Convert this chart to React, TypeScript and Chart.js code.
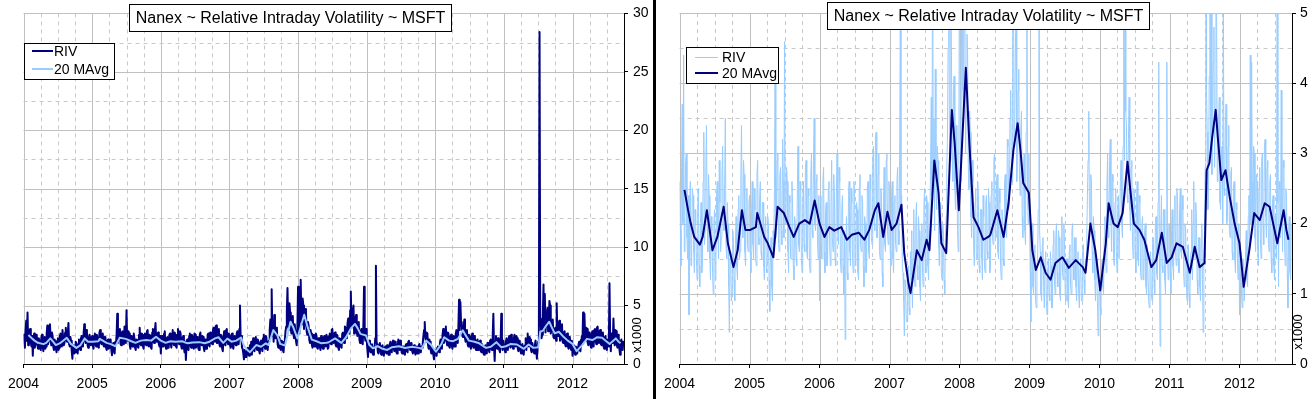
import React, { useEffect, useRef } from "react";
import { Chart, registerables } from "chart.js";

Chart.register(...registerables);

const TITLE = "Nanex ~ Relative Intraday Volatility ~ MSFT";
const RIV_NAME = "RIV";
const MAVG_NAME = "20 MAvg";
const UNIT_LABEL = "x1000";
const X_MIN = 2004;
const X_MAX = 2012.75;
const SAMPLES_PER_YEAR = 104;
const NAVY = "#000080";
const LIGHT = "#99ccff";
const FONT = '"Liberation Sans", Arial, sans-serif';

// Relative intraday volatility (x1000), two readings per week
const riv2004 = [
  2.6, 1.9, 1.4, 2.8, 3.7, 2.0, 4.4, 1.6, 2.1, 2.9, 3.0, 1.8, 1.5, 2.4, 0.7, 2.2, 2.6, 1.4, 1.7, 2.5, 2.4, 1.6, 1.3, 2.2, 2.0, 1.5,
  1.2, 2.3, 2.5, 1.4, 1.1, 2.0, 2.3, 1.3, 1.5, 2.6, 3.3, 1.7, 1.9, 2.8, 3.4, 2.1, 1.6, 2.7, 2.4, 1.5, 1.2, 2.1, 1.9, 1.3, 1.0, 2.0,
  2.2, 1.2, 1.4, 2.4, 2.6, 1.8, 1.5, 2.9, 2.3, 1.6, 1.8, 2.7, 3.1, 2.0, 1.9, 2.6, 3.5, 1.7, 1.5, 2.3, 2.0, 1.1, 0.45, 1.5, 1.6, 0.9,
  1.0, 1.9, 1.8, 1.2, 0.9, 1.7, 2.1, 1.4, 1.2, 2.2, 2.4, 1.5, 1.6, 2.6, 3.4, 2.2, 1.8, 2.9, 2.7, 1.6, 1.4, 2.2, 2.5, 1.7, 1.6, 2.3,
];
const riv2005 = [
  2.4, 1.6, 1.3, 2.2, 2.6, 1.7, 1.5, 2.5, 2.2, 1.5, 1.4, 2.7, 2.9, 1.8, 1.7, 2.4, 2.6, 1.6, 1.5, 2.3, 2.3, 1.4, 1.2, 2.0, 2.1, 1.3,
  1.4, 2.1, 2.0, 1.2, 0.75, 1.6, 1.8, 1.1, 0.9, 1.9, 1.7, 2.5, 4.3, 1.8, 2.2, 2.9, 3.0, 1.7, 1.6, 2.7, 2.8, 1.9, 1.7, 3.2, 2.6, 1.8,
  4.6, 2.1, 2.0, 2.8, 2.6, 1.6, 1.3, 2.4, 2.3, 1.5, 1.5, 2.6, 2.2, 1.4, 1.2, 2.1, 2.0, 1.5, 1.4, 2.5, 3.1, 1.7, 1.6, 2.6, 2.5, 1.5,
  1.3, 2.3, 2.6, 1.7, 1.6, 2.8, 2.9, 1.6, 1.5, 2.5, 2.4, 1.4, 1.3, 2.7, 3.0, 1.9, 1.8, 2.9, 3.5, 2.0, 1.9, 2.6, 2.7, 1.7, 1.5, 2.4,
];
const riv2006 = [
  0.9, 2.0, 2.4, 1.5, 1.5, 2.6, 2.8, 1.6, 1.3, 2.2, 2.3, 1.4, 1.5, 2.5, 2.6, 1.7, 1.4, 2.3, 2.9, 1.8, 1.6, 2.7, 2.5, 1.5, 1.4, 2.4,
  3.0, 1.9, 1.7, 2.8, 2.6, 1.5, 1.3, 2.2, 2.4, 1.4, 1.0, 1.9, 0.35, 1.6, 2.1, 1.3, 1.2, 2.4, 2.6, 1.6, 1.4, 2.5, 2.3, 1.5, 1.3, 2.6,
  2.5, 1.4, 1.5, 2.3, 2.2, 1.3, 1.2, 2.5, 2.7, 1.7, 1.6, 2.4, 2.3, 1.4, 1.1, 2.1, 2.0, 1.3, 1.4, 2.5, 2.6, 1.6, 1.5, 2.7, 2.5, 1.8,
  1.7, 2.9, 3.1, 2.0, 1.9, 3.2, 3.3, 1.8, 1.8, 2.7, 3.0, 1.6, 1.5, 2.5, 2.4, 1.3, 1.1, 2.3, 2.8, 1.7, 1.6, 2.9, 3.0, 1.9, 1.7, 2.6,
];
const riv2007 = [
  2.5, 1.6, 1.4, 2.4, 2.6, 1.5, 1.3, 2.3, 2.4, 1.7, 1.6, 2.6, 2.8, 1.9, 1.7, 3.0, 5.0, 2.2, 2.4, 1.4, 1.3, 0.9, 0.4, 1.2, 1.0, 0.6,
  0.6, 1.3, 1.4, 0.8, 0.7, 1.6, 1.2, 1.9, 0.8, 1.5, 2.2, 1.2, 1.1, 2.0, 2.3, 1.4, 1.2, 2.1, 1.9, 1.1, 0.9, 1.8, 2.0, 1.3, 1.1, 2.2,
  2.5, 1.5, 1.3, 2.4, 2.3, 1.4, 1.2, 1.9, 2.0, 2.9, 3.8, 2.4, 6.4, 2.7, 3.5, 1.9, 4.2, 2.6, 2.2, 3.1, 2.9, 1.7, 1.4, 2.3, 2.2, 1.3,
  1.2, 2.0, 1.9, 1.2, 1.0, 1.8, 2.1, 2.8, 3.2, 4.5, 6.5, 3.3, 2.9, 5.2, 4.4, 3.0, 2.6, 3.9, 4.1, 2.5, 2.2, 3.4, 2.7, 1.9, 1.6, 3.1,
];
const riv2008 = [
  6.6, 3.2, 2.6, 4.8, 7.2, 3.9, 3.4, 5.6, 5.0, 3.0, 3.6, 4.7, 4.4, 2.8, 2.5, 3.6, 3.3, 2.1, 1.8, 2.9, 2.6, 1.6, 1.4, 2.3, 2.5, 1.5,
  1.5, 2.6, 2.4, 1.4, 1.3, 2.2, 2.2, 1.5, 1.2, 2.4, 2.1, 1.4, 1.3, 2.3, 2.4, 1.6, 1.5, 2.5, 2.3, 1.3, 1.4, 2.4, 2.6, 1.8, 1.7, 2.9,
  3.0, 1.9, 1.8, 2.6, 2.7, 1.6, 1.5, 2.5, 2.3, 1.4, 1.2, 2.2, 2.1, 1.5, 1.4, 2.6, 2.7, 1.9, 1.8, 3.2, 3.1, 2.2, 2.3, 3.5, 3.9, 2.8,
  2.6, 4.6, 6.2, 3.1, 3.4, 4.5, 5.0, 2.6, 2.9, 3.9, 4.2, 2.7, 2.4, 3.3, 3.6, 2.1, 1.8, 2.8, 3.0, 1.9, 1.7, 3.3, 6.6, 2.4, 2.0, 3.0,
];
const riv2009 = [
  2.1, 1.3, 0.6, 1.8, 2.0, 1.1, 1.0, 1.6, 1.7, 0.9, 0.8, 1.4, 1.5, 2.2, 8.4, 1.9, 1.6, 1.0, 0.9, 1.7, 1.8, 1.1, 0.8, 1.5, 1.6, 0.9,
  0.7, 1.3, 1.5, 1.0, 0.9, 1.6, 1.4, 0.8, 0.8, 1.7, 1.9, 1.2, 1.0, 1.8, 2.0, 1.3, 1.1, 1.9, 1.8, 1.0, 0.9, 1.6, 2.1, 1.3, 1.2, 2.0,
  1.7, 1.0, 0.9, 1.5, 1.5, 0.9, 0.8, 1.6, 1.7, 1.1, 1.0, 1.9, 2.0, 1.4, 1.2, 1.8, 1.8, 1.1, 0.9, 1.5, 1.6, 1.0, 0.8, 1.4, 1.5, 0.9,
  0.9, 1.6, 1.7, 1.2, 1.0, 1.5, 1.4, 1.8, 2.4, 2.9, 3.6, 2.2, 1.9, 2.7, 2.6, 1.6, 1.3, 2.1, 1.9, 1.2, 0.9, 1.5, 1.3, 0.8, 0.4, 1.0,
];
const riv2010 = [
  1.2, 0.8, 0.7, 1.4, 1.5, 1.1, 1.0, 1.8, 2.1, 1.5, 1.3, 2.5, 3.0, 1.8, 2.0, 2.9, 3.2, 2.0, 1.6, 2.7, 2.6, 1.5, 1.4, 2.3, 2.5, 1.6,
  1.3, 2.2, 2.4, 1.5, 1.5, 2.6, 2.9, 2.0, 1.8, 3.1, 5.5, 2.9, 5.3, 3.6, 3.4, 2.4, 2.3, 3.2, 3.8, 2.2, 1.9, 2.8, 2.9, 1.7, 1.5, 2.5,
  2.4, 1.6, 1.3, 2.3, 2.6, 1.5, 1.4, 2.4, 2.3, 1.3, 1.2, 2.0, 2.1, 1.2, 1.3, 1.9, 2.0, 1.1, 1.0, 1.7, 1.7, 0.9, 0.8, 1.5, 1.6, 1.0,
  0.9, 1.8, 1.8, 1.2, 1.0, 2.0, 2.1, 1.3, 1.2, 2.3, 4.3, 1.5, 0.25, 1.9, 2.4, 1.4, 1.3, 2.2, 2.2, 1.2, 1.0, 1.8, 4.3, 1.6, 1.2, 2.0,
];
const riv2011 = [
  2.0, 1.3, 1.0, 1.9, 2.2, 1.4, 1.2, 2.1, 2.4, 1.6, 1.4, 2.5, 2.3, 1.5, 1.3, 2.2, 2.5, 1.6, 1.5, 2.4, 2.2, 1.3, 1.1, 2.0, 1.9, 1.2,
  0.9, 1.6, 1.7, 1.0, 0.8, 1.5, 1.6, 2.2, 1.2, 2.0, 2.6, 1.6, 1.5, 2.3, 2.1, 1.2, 1.0, 1.8, 1.8, 1.1, 0.9, 1.7, 2.0, 1.2, 0.45, 1.4,
  1.9, 2.8, 28.4, 3.9, 3.3, 2.2, 2.5, 4.1, 6.8, 3.0, 6.0, 2.7, 3.4, 4.3, 4.8, 2.8, 3.6, 5.4, 5.0, 2.6, 2.9, 3.5, 3.8, 2.3, 2.2, 3.0,
  3.1, 2.0, 5.2, 2.5, 2.4, 3.4, 3.7, 2.0, 2.1, 3.1, 3.4, 1.9, 1.8, 2.7, 2.8, 1.6, 1.5, 2.5, 2.6, 1.5, 1.3, 2.3, 2.2, 1.4, 1.2, 2.0,
];
const riv2012 = [
  0.7, 1.4, 1.6, 1.0, 0.8, 1.5, 1.4, 0.9, 0.9, 1.6, 1.9, 1.2, 1.1, 2.1, 2.4, 1.7, 4.4, 2.0, 4.3, 2.6, 2.0, 3.1, 3.0, 1.8, 1.6, 2.7,
  2.6, 1.7, 1.4, 2.5, 2.8, 1.8, 1.5, 2.9, 3.0, 2.0, 1.7, 3.1, 3.2, 2.1, 1.8, 2.8, 2.9, 1.7, 1.6, 2.6, 2.7, 1.5, 1.3, 2.3, 2.4, 1.4,
  1.2, 2.1, 2.0, 1.5, 6.9, 2.3, 1.1, 2.6, 2.5, 1.8, 3.9, 2.2, 1.6, 2.9, 2.8, 1.7, 1.4, 2.5, 2.3, 1.3, 0.8, 1.9, 2.1, 1.3, 1.2, 2.0,
];
const rivYears = [2004, 2005, 2006, 2007, 2008, 2009, 2010, 2011, 2012];
const rivByYear = [riv2004, riv2005, riv2006, riv2007, riv2008, riv2009, riv2010, riv2011, riv2012];

// 20-day moving average (x1000), read at turning points
const mavgDates = [
  2004.07, 2004.12, 2004.16, 2004.21, 2004.29, 2004.33, 2004.39, 2004.43, 2004.47, 2004.54, 2004.63, 2004.69, 2004.77, 2004.83, 2004.89, 2004.94,
  2005.01, 2005.09, 2005.11, 2005.21, 2005.26, 2005.34, 2005.40, 2005.49, 2005.57, 2005.63, 2005.71, 2005.79, 2005.86, 2005.93,
  2006.00, 2006.07, 2006.14, 2006.21, 2006.31, 2006.39, 2006.46, 2006.56, 2006.64, 2006.71, 2006.79, 2006.84, 2006.91, 2006.97,
  2007.03, 2007.10, 2007.17, 2007.21, 2007.27, 2007.30, 2007.39, 2007.46, 2007.53, 2007.57, 2007.64, 2007.70, 2007.74, 2007.81, 2007.89, 2007.93, 2007.99,
  2008.06, 2008.09, 2008.14, 2008.20, 2008.27, 2008.34, 2008.41, 2008.44, 2008.54, 2008.63, 2008.70, 2008.77, 2008.83, 2008.87, 2008.91, 2008.99,
  2009.04, 2009.09, 2009.16, 2009.23, 2009.30, 2009.37, 2009.47, 2009.56, 2009.66, 2009.76, 2009.80, 2009.87, 2009.94,
  2010.01, 2010.09, 2010.13, 2010.20, 2010.26, 2010.33, 2010.40, 2010.44, 2010.49, 2010.57, 2010.64, 2010.74, 2010.81, 2010.89, 2010.96,
  2011.03, 2011.10, 2011.19, 2011.29, 2011.36, 2011.43, 2011.50, 2011.53, 2011.57, 2011.61, 2011.66, 2011.69, 2011.74, 2011.80, 2011.86, 2011.93,
  2012.00, 2012.06, 2012.14, 2012.21, 2012.29, 2012.36, 2012.43, 2012.50, 2012.54, 2012.63, 2012.67, 2012.70,
];
const mavgValues = [
  2.48, 2.20, 2.00, 1.81, 1.70, 1.81, 2.19, 1.91, 1.62, 1.81, 2.24, 1.72, 1.38, 1.62, 2.19, 1.91,
  1.91, 1.95, 2.15, 1.81, 1.72, 1.52, 2.24, 2.15, 1.95, 1.81, 2.00, 2.05, 2.00, 2.33,
  2.00, 1.81, 1.95, 1.90, 1.95, 1.77, 1.84, 1.87, 1.77, 1.91, 2.19, 2.29, 1.81, 2.17,
  1.91, 2.00, 2.27, 1.58, 1.15, 1.01, 1.62, 1.48, 1.77, 1.62, 2.90, 2.44, 1.72, 1.58, 3.62, 3.15, 2.19,
  3.62, 4.22, 3.15, 2.09, 1.95, 1.77, 1.81, 1.84, 2.19, 1.81, 2.29, 3.05, 3.43, 3.05, 2.58, 2.44,
  1.62, 1.34, 1.52, 1.30, 1.20, 1.44, 1.52, 1.37, 1.48, 1.38, 1.30, 2.00, 1.62,
  1.05, 1.72, 2.29, 2.00, 1.95, 2.15, 2.88, 2.48, 2.00, 1.91, 1.77, 1.38, 1.48, 1.87, 1.44,
  1.52, 1.72, 1.67, 1.30, 1.67, 1.38, 1.44, 2.76, 2.86, 3.23, 3.62, 3.23, 2.62, 2.76, 2.38, 2.00,
  1.72, 1.10, 1.62, 2.15, 2.05, 2.29, 2.24, 1.91, 1.72, 2.19, 1.91, 1.77,
];

function rivPoints() {
  const pts: { x: number; y: number }[] = [];
  rivByYear.forEach((vals, k) => {
    vals.forEach((v, i) => pts.push({ x: rivYears[k] + i / SAMPLES_PER_YEAR, y: v }));
  });
  return pts;
}
function mavgPoints() {
  return mavgDates.map((d, i) => ({ x: d, y: mavgValues[i] }));
}

type Panel = {
  width: number;
  padLeft: number;
  yAxisWidth: number;
  yMax: number;
  yStep: number;
  yMinor: number;
  tickPad: number;
  rivColor: string;
  rivWidth: number;
  mavgColor: string;
  mavgWidth: number;
  title: { x: number; y: number; w: number; h: number };
  legend: { x: number; y: number; w: number; h: number; lineX0: number; lineX1: number; textX: number; rowY: number[] };
  unit: { x: number; y: number };
};

const LEFT_PANEL: Panel = {
  width: 653,
  padLeft: 20,
  yAxisWidth: 29,
  yMax: 30,
  yStep: 5,
  yMinor: 2.5,
  tickPad: 5,
  rivColor: NAVY,
  rivWidth: 2,
  mavgColor: LIGHT,
  mavgWidth: 2,
  title: { x: 129, y: 4, w: 322, h: 27 },
  legend: { x: 24, y: 43, w: 90, h: 36, lineX0: 8, lineX1: 29, textX: 30, rowY: [8, 26] },
  unit: { x: 637, y: 335 },
};

const RIGHT_PANEL: Panel = {
  width: 660,
  padLeft: 22,
  yAxisWidth: 24,
  yMax: 5,
  yStep: 1,
  yMinor: 0.5,
  tickPad: 4,
  rivColor: LIGHT,
  rivWidth: 1,
  mavgColor: NAVY,
  mavgWidth: 2,
  title: { x: 171, y: 2, w: 322, h: 27 },
  legend: { x: 30, y: 47, w: 92, h: 36, lineX0: 9, lineX1: 32, textX: 36, rowY: [10.5, 26] },
  unit: { x: 642, y: 332 },
};

function makeDeco(p: Panel) {
  return {
    id: "deco",
    beforeDraw(chart: any) {
      const { ctx, chartArea: a } = chart;
      const xs = chart.scales.x;
      const ys = chart.scales.y;
      ctx.save();
      ctx.fillStyle = "#fff";
      ctx.fillRect(0, 0, chart.width, chart.height);
      ctx.lineWidth = 1;
      for (let k = 0; ; k++) {
        const v = X_MIN + k * 0.25;
        if (v >= X_MAX - 1e-6) break;
        const major = k % 4 === 0;
        const px = Math.round(xs.getPixelForValue(v)) + 0.5;
        ctx.strokeStyle = major ? "#c0c0c0" : "#c8c8c8";
        ctx.setLineDash(major ? [] : [4, 4]);
        ctx.beginPath();
        ctx.moveTo(px, a.top);
        ctx.lineTo(px, a.bottom);
        ctx.stroke();
      }
      const n = Math.round(p.yMax / p.yMinor);
      for (let k = 1; k <= n; k++) {
        const v = k * p.yMinor;
        const r = v / p.yStep;
        const major = Math.abs(r - Math.round(r)) < 1e-6;
        const py = Math.round(ys.getPixelForValue(v)) + 0.5;
        ctx.strokeStyle = major ? "#c0c0c0" : "#c8c8c8";
        ctx.setLineDash(major ? [] : [4, 4]);
        ctx.beginPath();
        ctx.moveTo(a.left, py);
        ctx.lineTo(a.right, py);
        ctx.stroke();
      }
      ctx.restore();
    },
    afterDraw(chart: any) {
      const { ctx } = chart;
      ctx.save();
      ctx.setLineDash([]);
      const t = p.title;
      ctx.fillStyle = "#fff";
      ctx.fillRect(t.x, t.y, t.w, t.h);
      ctx.strokeStyle = "#000";
      ctx.lineWidth = 1;
      ctx.strokeRect(t.x + 0.5, t.y + 0.5, t.w, t.h);
      ctx.fillStyle = "#000";
      ctx.font = "16px " + FONT;
      ctx.textAlign = "center";
      ctx.textBaseline = "middle";
      ctx.fillText(TITLE, t.x + t.w / 2 + 0.5, t.y + t.h / 2 + 1);
      const L = p.legend;
      ctx.fillStyle = "#fff";
      ctx.fillRect(L.x, L.y, L.w, L.h);
      ctx.strokeStyle = "#000";
      ctx.lineWidth = 1;
      ctx.strokeRect(L.x + 0.5, L.y + 0.5, L.w, L.h);
      const rows = [
        { label: RIV_NAME, color: p.rivColor, width: p.rivWidth },
        { label: MAVG_NAME, color: p.mavgColor, width: p.mavgWidth },
      ];
      rows.forEach((row, i) => {
        const yy = L.y + L.rowY[i];
        ctx.strokeStyle = row.color;
        ctx.lineWidth = row.width;
        ctx.beginPath();
        ctx.moveTo(L.x + L.lineX0, yy);
        ctx.lineTo(L.x + L.lineX1, yy);
        ctx.stroke();
        ctx.fillStyle = "#000";
        ctx.font = "14px " + FONT;
        ctx.textAlign = "left";
        ctx.textBaseline = "middle";
        ctx.fillText(row.label, L.x + L.textX, yy + 1);
      });
      ctx.translate(p.unit.x, p.unit.y);
      ctx.rotate(-Math.PI / 2);
      ctx.font = "13px " + FONT;
      ctx.textAlign = "center";
      ctx.textBaseline = "middle";
      ctx.fillStyle = "#000";
      ctx.fillText(UNIT_LABEL, 0, 0);
      ctx.restore();
    },
  };
}

function PanelChart({ panel, left }: { panel: Panel; left: number }) {
  const ref = useRef<HTMLCanvasElement | null>(null);
  useEffect(() => {
    if (!ref.current) return;
    const tickFont = { family: FONT, size: 14 };
    const chart = new Chart(ref.current, {
      type: "line",
      data: {
        datasets: [
          {
            label: MAVG_NAME,
            data: mavgPoints(),
            borderColor: panel.mavgColor,
            borderWidth: panel.mavgWidth,
            order: 0,
          },
          {
            label: RIV_NAME,
            data: rivPoints(),
            borderColor: panel.rivColor,
            borderWidth: panel.rivWidth,
            order: 1,
          },
        ] as any,
      },
      options: {
        responsive: false,
        maintainAspectRatio: false,
        animation: false,
        events: [],
        layout: { padding: { left: panel.padLeft, top: 13, right: 0, bottom: 0 } },
        elements: {
          point: { radius: 0, hoverRadius: 0 },
          line: { tension: 0, fill: false, borderJoinStyle: "round", borderCapStyle: "butt" },
        },
        datasets: { line: { clip: 0 } } as any,
        plugins: {
          legend: { display: false },
          title: { display: false },
          tooltip: { enabled: false },
        },
        scales: {
          x: {
            type: "linear",
            min: X_MIN,
            max: X_MAX,
            ticks: {
              stepSize: 1,
              includeBounds: false,
              autoSkip: false,
              maxRotation: 0,
              minRotation: 0,
              color: "#000",
              font: tickFont,
              padding: 8,
              callback: (v: any) => String(v),
            },
            grid: { drawOnChartArea: false, drawTicks: true, tickLength: 4, tickColor: "#000", tickWidth: 1 },
            border: { display: true, color: "#000", width: 1 },
            afterFit: (s: any) => {
              s.height = 35;
            },
          },
          y: {
            type: "linear",
            position: "right",
            min: 0,
            max: panel.yMax,
            ticks: {
              stepSize: panel.yStep,
              color: "#000",
              font: tickFont,
              padding: panel.tickPad,
              callback: (v: any) => String(v),
            },
            grid: { drawOnChartArea: false, drawTicks: true, tickLength: 4, tickColor: "#000", tickWidth: 1 },
            border: { display: true, color: "#000", width: 1 },
            afterFit: (s: any) => {
              s.width = panel.yAxisWidth;
            },
          },
        } as any,
      },
      plugins: [makeDeco(panel)],
    });
    return () => chart.destroy();
  }, [panel]);
  return (
    <canvas
      ref={ref}
      width={panel.width}
      height={399}
      style={{ position: "absolute", left, top: 0, display: "block", width: panel.width, height: 399 }}
    />
  );
}

export default function App() {
  return (
    <div style={{ position: "relative", width: 1316, height: 399, background: "#fff", overflow: "hidden" }}>
      <style>{"html,body{margin:0;padding:0;background:#fff;}"}</style>
      <PanelChart panel={LEFT_PANEL} left={0} />
      <div style={{ position: "absolute", left: 653, top: 0, width: 3, height: 399, background: "#000" }} />
      <PanelChart panel={RIGHT_PANEL} left={656} />
    </div>
  );
}
